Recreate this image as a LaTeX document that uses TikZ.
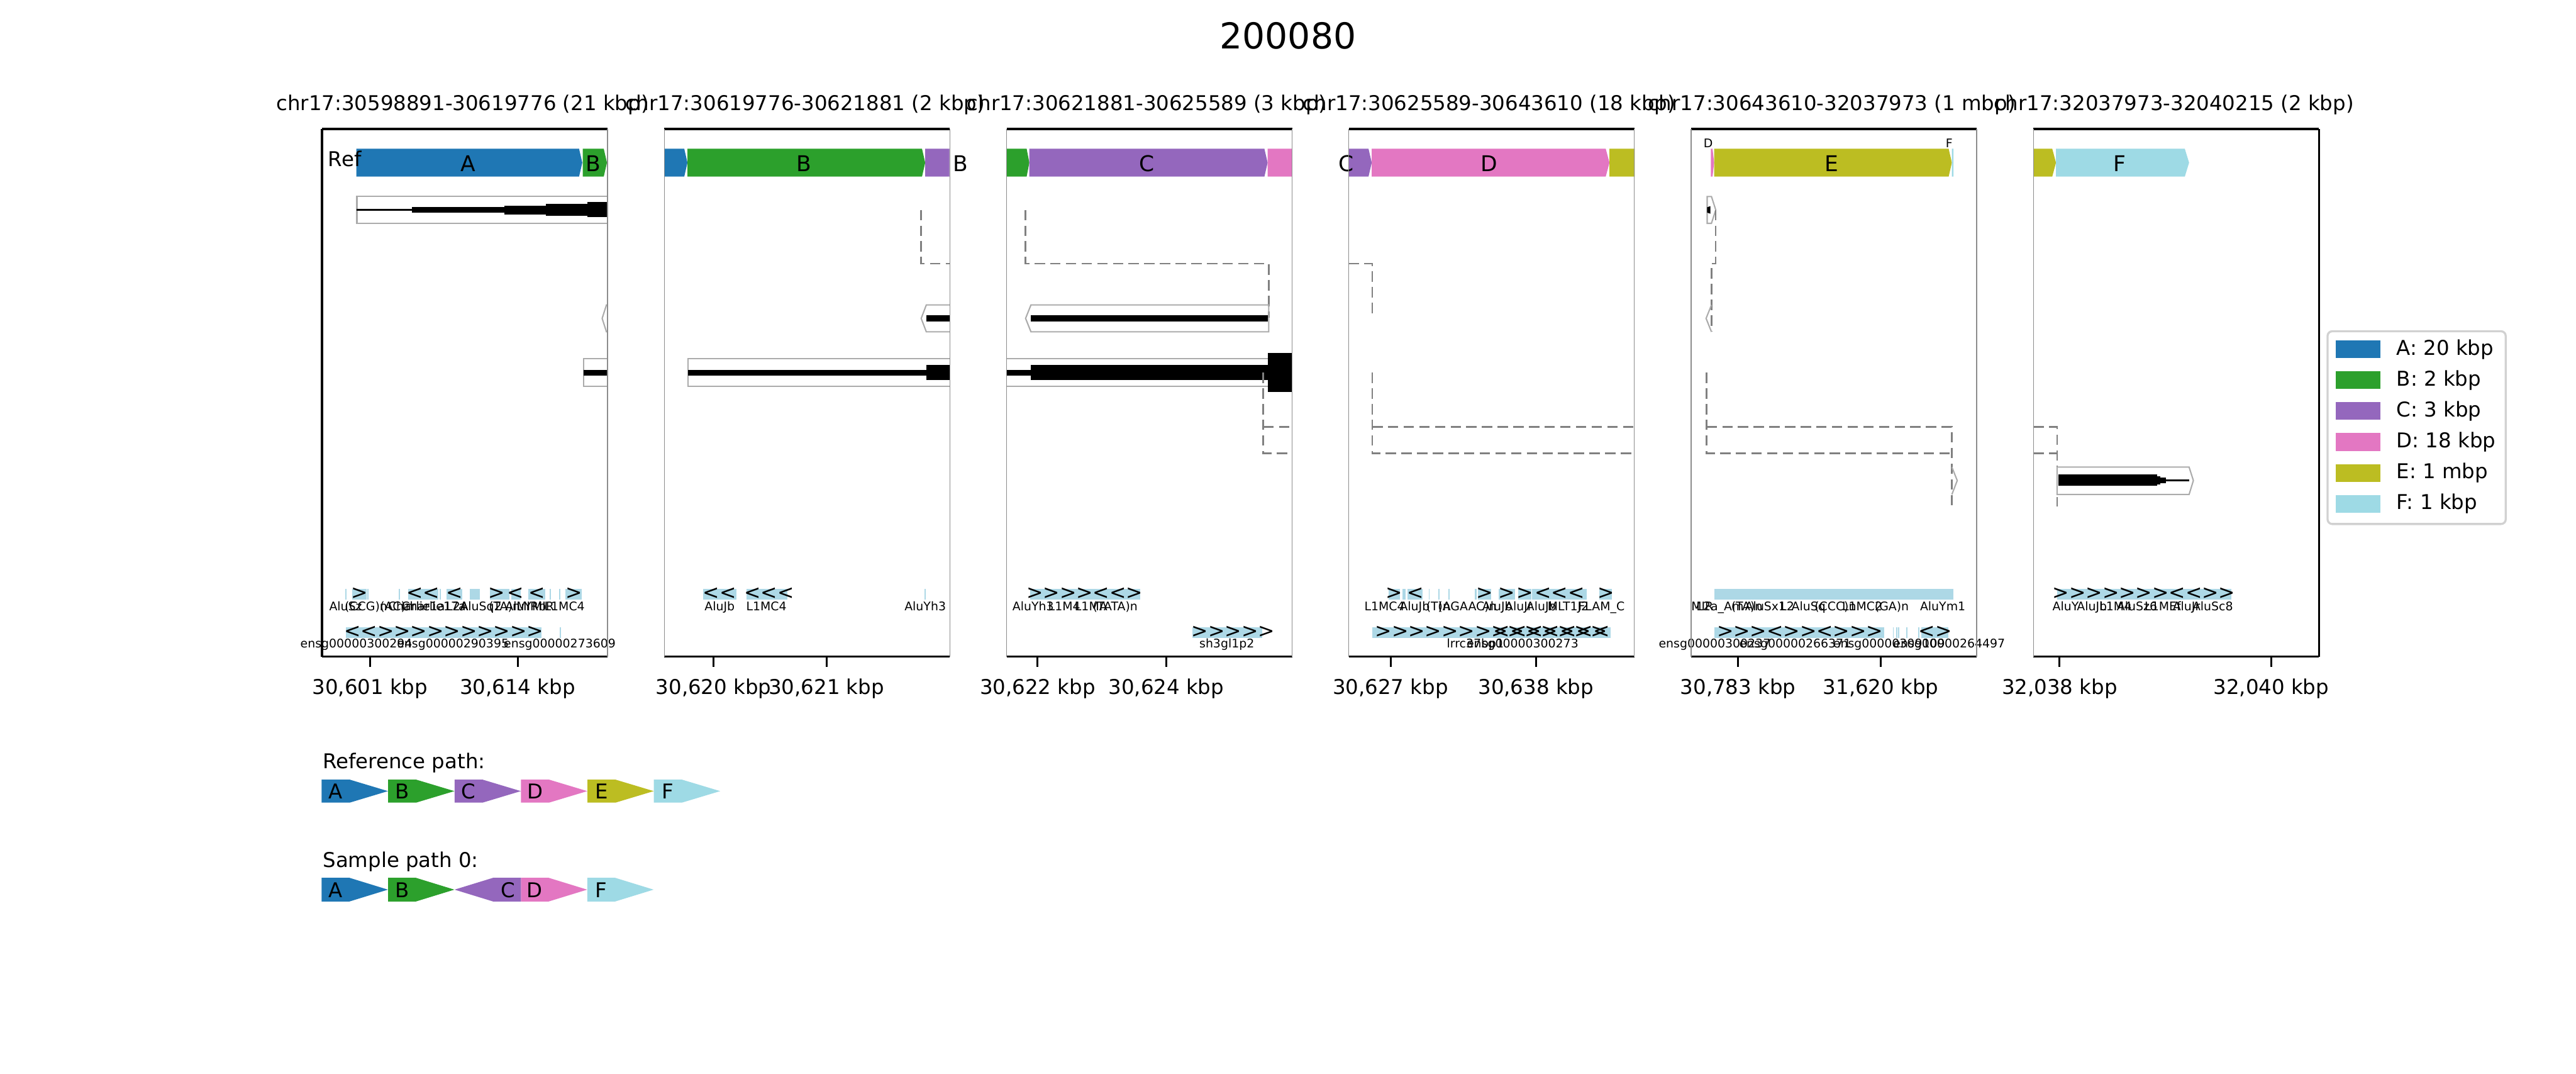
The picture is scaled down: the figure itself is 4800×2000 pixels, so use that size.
\documentclass[tikz,border=0pt]{standalone}
\usepackage{fontspec}
\setmainfont{DejaVu Sans}
\newfontfamily\glyphfont{DejaVu Sans}[Ligatures=TeXOff]
\definecolor{cA}{HTML}{1F77B4}
\definecolor{cB}{HTML}{2CA02C}
\definecolor{cC}{HTML}{9467BD}
\definecolor{cD}{HTML}{E377C2}
\definecolor{cE}{HTML}{BCBD22}
\definecolor{cF}{HTML}{9EDAE5}
\definecolor{annblue}{HTML}{ADD8E6}
\definecolor{boxgray}{HTML}{ABABAB}
\definecolor{dashgray}{HTML}{808080}
\newcommand\seg[4]{\fill[#4] (#1,277) -- (#2,277) -- (#3,303) -- (#2,329) -- (#1,329) -- cycle;}
\newcommand\rep[2]{\fill[annblue] (#1,1097) rectangle (#2,1117);}
\newcommand\gen[2]{\fill[annblue] (#1,1168) rectangle (#2,1188);}
\begin{document}
\begin{tikzpicture}[x=0.01cm,y=-0.01cm,
  big/.style={font=\fontsize{10.8pt}{12pt}\selectfont, inner sep=0pt},
  seglbl/.style={font=\fontsize{11.5pt}{13pt}\selectfont, inner sep=0pt},
  ann/.style={font=\fontsize{6.3pt}{7pt}\selectfont, inner sep=0pt, anchor=base},
  glyph/.style={font=\glyphfont\fontsize{10.5pt}{11pt}\selectfont, inner sep=0pt},
  spinethick/.style={line width=1.15pt, black},
  spinethin/.style={line width=0.4pt, black!45},
  tickmark/.style={line width=1pt, black},
  trackbox/.style={draw=boxgray, line width=0.7pt},
  link/.style={draw=dashgray, line width=0.9pt, dash pattern=on 5.5pt off 2.8pt}]
\useasboundingbox (0,0) rectangle (4800,2000);
\fill[white] (0,0) rectangle (4800,2000);

% title
\node[font=\fontsize{18.9pt}{21pt}\selectfont, inner sep=0pt] (title) at (2400,67) {200080};

% panel subtitles
\node[big, anchor=base] (t1) at (862,206) {chr17:30598891-30619776 (21 kbp)};
\node[big, anchor=base] (t2) at (1500,206) {chr17:30619776-30621881 (2 kbp)};
\node[big, anchor=base] (t3) at (2137,206) {chr17:30621881-30625589 (3 kbp)};
\node[big, anchor=base] (t4) at (2775,206) {chr17:30625589-30643610 (18 kbp)};
\node[big, anchor=base] (t5) at (3413,206) {chr17:30643610-32037973 (1 mbp)};
\node[big, anchor=base] (t6) at (4051,206) {chr17:32037973-32040215 (2 kbp)};

% ===== segment bars =====
\seg{664}{1079}{1085}{cA} \seg{1086}{1125}{1131}{cB}
\seg{1238}{1275}{1281}{cA} \seg{1281}{1718}{1724}{cB} \seg{1724}{1769}{1769}{cC}
\seg{1875}{1913}{1918}{cB} \seg{1918}{2356}{2362}{cC} \seg{2362}{2408}{2408}{cD}
\seg{2513}{2550}{2556}{cC} \seg{2556}{2992}{2999}{cD} \seg{2999}{3046}{3046}{cE}
\seg{3188}{3191}{3194}{cD} \seg{3194}{3631}{3637}{cE} \seg{3637}{3640}{3640}{cF}
\seg{3789}{3824}{3831}{cE} \seg{3831}{4071}{4079}{cF}

\node[big, anchor=base west] (ref) at (611,310) {Ref};
\node[seglbl] (la1) at (872,305) {A};
\node[seglbl] (lb1) at (1106,305) {B};
\node[seglbl] (lb2) at (1498,305) {B};
\node[seglbl] (lb3) at (1790,305) {B};
\node[seglbl] (lc3) at (2137,305) {C};
\node[seglbl] (lc4) at (2508,305) {C};
\node[seglbl] (ld4) at (2775,305) {D};
\node[seglbl] (le5) at (3413,305) {E};
\node[seglbl] (lf6) at (3950,305) {F};
\node[font=\fontsize{6.3pt}{7pt}\selectfont, inner sep=0pt] (ld5) at (3183,267) {D};
\node[font=\fontsize{6.3pt}{7pt}\selectfont, inner sep=0pt] (lf5) at (3632,267) {F};

% ===== panel 1 tracks =====
\draw[trackbox] (1133,366) -- (665,366) -- (665,416) -- (1133,416);
\fill (665,389.5) rectangle (768,392.5);
\fill (768,386) rectangle (940,396);
\fill (940,382.7) rectangle (1017,399.5);
\fill (1017,379.4) rectangle (1095,402.2);
\fill (1095,376.7) rectangle (1133,404.8);
\draw[trackbox] (1133,568) -- (1130,568) -- (1122,593) -- (1130,618) -- (1133,618);
\draw[trackbox] (1133,668) -- (1087,668) -- (1087,719) -- (1133,719);
\fill (1087,688.8) rectangle (1133,699.5);

% ===== panel 2 tracks =====
\draw[link] (1716,391) -- (1716,491) -- (1769,491);
\draw[trackbox] (1770,568) -- (1726,568) -- (1716.5,593) -- (1726,618) -- (1770,618);
\fill (1726,587.6) rectangle (1769,599);
\draw[trackbox] (1770,668) -- (1282,668) -- (1282,719) -- (1770,719);
\fill (1282,689) rectangle (1726,700);
\fill (1726,680) rectangle (1769,708);

% ===== panel 3 tracks =====
\draw[link] (1911,391) -- (1911,491) -- (2364,491) -- (2364,592);
\draw[trackbox] (2364,568) -- (1921,568) -- (1911,593) -- (1921,618) -- (2364,618) -- cycle;
\fill (1921,587.6) rectangle (2363,599);
\draw[trackbox] (1875,668) -- (2363,668);
\draw[trackbox] (1875,719) -- (2363,719);
\fill (1875,689) rectangle (1921,700);
\fill (1921,680) rectangle (2363,708);
\fill (2363,658) rectangle (2408,730);
\draw[link] (2354,694) -- (2354,844) -- (2402,844);
\draw[link] (2354,795) -- (2402,795);

% ===== panel 4 tracks =====
\draw[link] (2513,491) -- (2557,491) -- (2557,588);
\draw[link] (2557,694) -- (2557,844) -- (3046,844);
\draw[link] (2557,795) -- (3046,795);

% ===== panel 5 tracks =====
\draw[trackbox] (3181,366) -- (3189,366) -- (3197,391) -- (3189,416) -- (3181,416) -- cycle;
\fill (3181,386) -- (3187,384) -- (3187,398) -- (3181,396) -- cycle;
\draw[link] (3197,391) -- (3197,491) -- (3189,491) -- (3189,618);
\draw[trackbox] (3189,568) -- (3179,593) -- (3189,618);
\draw[link] (3180,694) -- (3180,844) -- (3637,844);
\draw[link] (3180,795) -- (3637,795) -- (3637,943);
\draw[trackbox] (3637,870) -- (3647,895) -- (3637,921);

% ===== panel 6 tracks =====
\draw[link] (3789,795) -- (3833,795) -- (3833,943);
\draw[link] (3789,844) -- (3833,844);
\draw[trackbox] (3833,870) -- (4079,870) -- (4087,895) -- (4079,921) -- (3833,921) -- cycle;
\fill (3835,884) rectangle (4019,905);
\fill (4019,887) rectangle (4025,902);
\fill (4025,889.5) rectangle (4036,900);
\fill (4036,893) rectangle (4079,896.5);

% ===== annotations panel 1 =====
\rep{643.5}{646} \rep{656.5}{683.3} \rep{684.8}{687} \rep{743}{745.5} \rep{760}{817}
\rep{819.5}{822} \rep{832.5}{861.6} \rep{875}{894.5} \rep{913}{949} \rep{952.6}{970}
\rep{984}{1016} \rep{1024}{1026.5} \rep{1041.4}{1043.6} \rep{1054}{1083.5}
\node[glyph] (g11) at (670,1106) {>};
\node[glyph] (g12) at (788,1106) {<<};
\node[glyph] (g13) at (847,1106) {<};
\node[glyph] (g14) at (926,1106) {>};
\node[glyph] (g15) at (961,1106) {<};
\node[glyph] (g16) at (1000,1106) {<};
\node[glyph] (g17) at (1069,1106) {>};
\node[ann] (a11) at (644,1137) {AluSz};
\node[ann] (a12) at (682,1137) {(CCG)n};
\node[ann] (a13) at (739,1137) {(AC)n};
\node[ann] (a14) at (776,1137) {Charlie1a};
\node[ann] (a15) at (808,1137) {Charlie17a};
\node[ann] (a16) at (852,1137) {L2A};
\node[ann] (a17) at (896,1137) {AluSq2};
\node[ann] (a18) at (940,1137) {(TA)n};
\node[ann] (a19) at (966,1137) {AluY};
\node[ann] (a110) at (990,1137) {MIRb};
\node[ann] (a111) at (1012,1137) {MIR};
\node[ann] (a112) at (1052,1137) {L1MC4};
\gen{645}{1008.5} \gen{1043}{1045.5}
\node[glyph] (h11) at (827,1177) {<<>>>>>>>>>>};
\node[ann] (b11) at (664,1206) {ensg00000300294};
\node[ann] (b12) at (844,1206) {ensg00000290395};
\node[ann] (b13) at (1043,1206) {ensg00000273609};

% ===== annotations panel 2 =====
\rep{1310.7}{1372} \rep{1391}{1467.6} \rep{1723}{1725.5}
\node[glyph] (g21) at (1341,1106) {<<};
\node[glyph] (g22) at (1433,1106) {<<<};
\node[ann] (a21) at (1341,1137) {AluJb};
\node[ann] (a22) at (1428,1137) {L1MC4};
\node[ann] (a23) at (1724,1137) {AluYh3};

% ===== annotations panel 3 =====
\rep{1919}{2124}
\node[glyph] (g31) at (2021,1106) {>>>><<>};
\node[ann] (a31) at (1925,1137) {AluYh3};
\node[ann] (a32) at (1983,1137) {L1M4};
\node[ann] (a33) at (2033,1137) {L1MA};
\node[ann] (a34) at (2078,1137) {(TATA)n};
\gen{2222}{2352}
\node[glyph] (h31) at (2298,1177) {>>>>>};
\node[ann] (b31) at (2286,1206) {sh3gl1p2};

% ===== annotations panel 4 =====
\rep{2587}{2609} \rep{2613}{2619} \rep{2623}{2651} \rep{2662}{2664} \rep{2680}{2682}
\rep{2699}{2701} \rep{2748}{2752} \rep{2754}{2779} \rep{2793}{2823} \rep{2829}{2854}
\rep{2855}{2957} \rep{2980}{3003}
\node[glyph] (g41) at (2598,1106) {>};
\node[glyph] (g42) at (2637,1106) {<};
\node[glyph] (g43) at (2766,1106) {>};
\node[glyph] (g44) at (2808,1106) {>};
\node[glyph] (g45) at (2841,1106) {>};
\node[glyph] (g46) at (2906,1106) {<<<};
\node[glyph] (g47) at (2992,1106) {>};
\node[ann] (a41) at (2580,1137) {L1MC4};
\node[ann] (a42) at (2636,1137) {AluJb};
\node[ann] (a43) at (2680,1137) {(T)n};
\node[ann] (a44) at (2734,1137) {(AGAAC)n};
\node[ann] (a45) at (2790,1137) {AluJb};
\node[ann] (a46) at (2830,1137) {AluJr};
\node[ann] (a47) at (2872,1137) {AluJb};
\node[ann] (a48) at (2922,1137) {MLT1J2};
\node[ann] (a49) at (2984,1137) {FLAM\_C};
\gen{2557}{3001}
\node[glyph] (h41) at (2779,1177) {>>>>>>>>>>>>>>};
\node[glyph] (h42) at (2891,1177) {<<<<<<<};
\node[ann] (b41) at (2749,1206) {lrrc37bp1};
\node[ann] (b42) at (2837,1206) {ensg00000300273};

% ===== annotations panel 5 =====
\rep{3194}{3640}
\node[ann] (a51) at (3172,1137) {MIR};
\node[ann] (a52) at (3205,1137) {L2a\_Am};
\node[ann] (a53) at (3255,1137) {(TA)n};
\node[ann] (a54) at (3290,1137) {AluSx1};
\node[ann] (a55) at (3330,1137) {L2};
\node[ann] (a56) at (3370,1137) {AluSq};
\node[ann] (a57) at (3420,1137) {(CCC)n};
\node[ann] (a58) at (3470,1137) {L1MC2};
\node[ann] (a59) at (3525,1137) {(GA)n};
\node[ann] (a510) at (3620,1137) {AluYm1};
\gen{3194}{3511} \gen{3481}{3483} \gen{3487}{3489} \gen{3527}{3529} \gen{3533}{3535}
\gen{3537}{3539} \gen{3552}{3554} \gen{3574}{3576} \gen{3580}{3631}
\node[glyph] (h51) at (3354,1177) {>>><>><>>>};
\node[glyph] (h53) at (3606,1177) {<>};
\node[ann] (b51) at (3195,1206) {ensg00000300237};
\node[ann] (b52) at (3345,1206) {ensg00000266371};
\node[ann] (b53) at (3520,1206) {ensg00000309109};
\node[ann] (b54) at (3632,1206) {ensg00000264497};

% ===== annotations panel 6 =====
\rep{3833}{4158}
\node[glyph] (g61) at (3995,1106) {>>>>>>><<>>};
\node[ann] (a61) at (3849,1137) {AluY};
\node[ann] (a62) at (3898,1137) {AluJb};
\node[ann] (a63) at (3942,1137) {L1M4};
\node[ann] (a64) at (3982,1137) {AluSz6};
\node[ann] (a65) at (4030,1137) {L1MEf};
\node[ann] (a66) at (4074,1137) {AluJr};
\node[ann] (a67) at (4123,1137) {AluSc8};

% ===== spines =====
\foreach \i in {0,...,5} {
  \pgfmathsetmacro{\xa}{600+637.8*\i}
  \pgfmathsetmacro{\xb}{\xa+532}
  \draw[spinethick] (\xa,240) -- (\xb,240);
  \draw[spinethick] (\xa,1223) -- (\xb,1223);
}
\foreach \xa in {1238,1875.6,2513.4,3151.2,3789} \draw[spinethin] (\xa,240) -- (\xa,1223);
\foreach \xb in {1132,1770,2407.6,3045.4,3683.2} \draw[spinethin] (\xb,240) -- (\xb,1223);
\draw[spinethick] (600,240) -- (600,1223);
\draw[spinethick] (4321,240) -- (4321,1223);

% ticks
\foreach \tx/\tl in {689.5/30{,}601 kbp, 964.5/30{,}614 kbp, 1329.6/30{,}620 kbp, 1540/30{,}621 kbp,
  1933.5/30{,}622 kbp, 2173/30{,}624 kbp, 2591/30{,}627 kbp, 2862/30{,}638 kbp,
  3238.6/30{,}783 kbp, 3504.6/31{,}620 kbp, 3837.7/32{,}038 kbp, 4232/32{,}040 kbp} {
  \draw[tickmark] (\tx,1223) -- (\tx,1242);
  \node[big, anchor=base] at (\tx,1293) {\tl};
}

% ===== legend =====
\draw[draw=black!18, line width=1.1pt, fill=white, rounded corners=2.5pt] (4337,617) rectangle (4669,976);
\foreach \c/\t [count=\k from 0] in {cA/A: 20 kbp, cB/B: 2 kbp, cC/C: 3 kbp, cD/D: 18 kbp, cE/E: 1 mbp, cF/F: 1 kbp} {
  \fill[\c] (4352,634+57.6*\k) rectangle (4436,667+57.6*\k);
  \node[big, anchor=west] at (4465,650.5+57.6*\k) {\t};
}

% ===== path diagrams =====
\node[big, anchor=base west] (refpath) at (601,1432) {Reference path:};
\foreach \c/\t [count=\k from 0] in {cA/A, cB/B, cC/C, cD/D, cE/E, cF/F} {
  \pgfmathsetmacro{\s}{599.4+123.8*\k}
  \fill[\c] (\s,1452) -- (\s+52,1452) -- (\s+123.5,1473.5) -- (\s+52,1495) -- (\s,1495) -- cycle;
  \node[big] at (\s+26,1474) {\t};
}
\node[big, anchor=base west] (smppath) at (601,1615) {Sample path 0:};
\foreach \c/\t/\s in {cA/A/599.4, cB/B/723.2, cD/D/970.6, cF/F/1094.4} {
  \fill[\c] (\s,1635) -- (\s+52,1635) -- (\s+123.5,1657) -- (\s+52,1679) -- (\s,1679) -- cycle;
  \node[big] at (\s+26,1658) {\t};
}
\fill[cC] (970.6,1635) -- (918.6,1635) -- (847,1657) -- (918.6,1679) -- (970.6,1679) -- cycle;
\node[big] (csamp) at (947,1658) {C};
\end{tikzpicture}
\end{document}
